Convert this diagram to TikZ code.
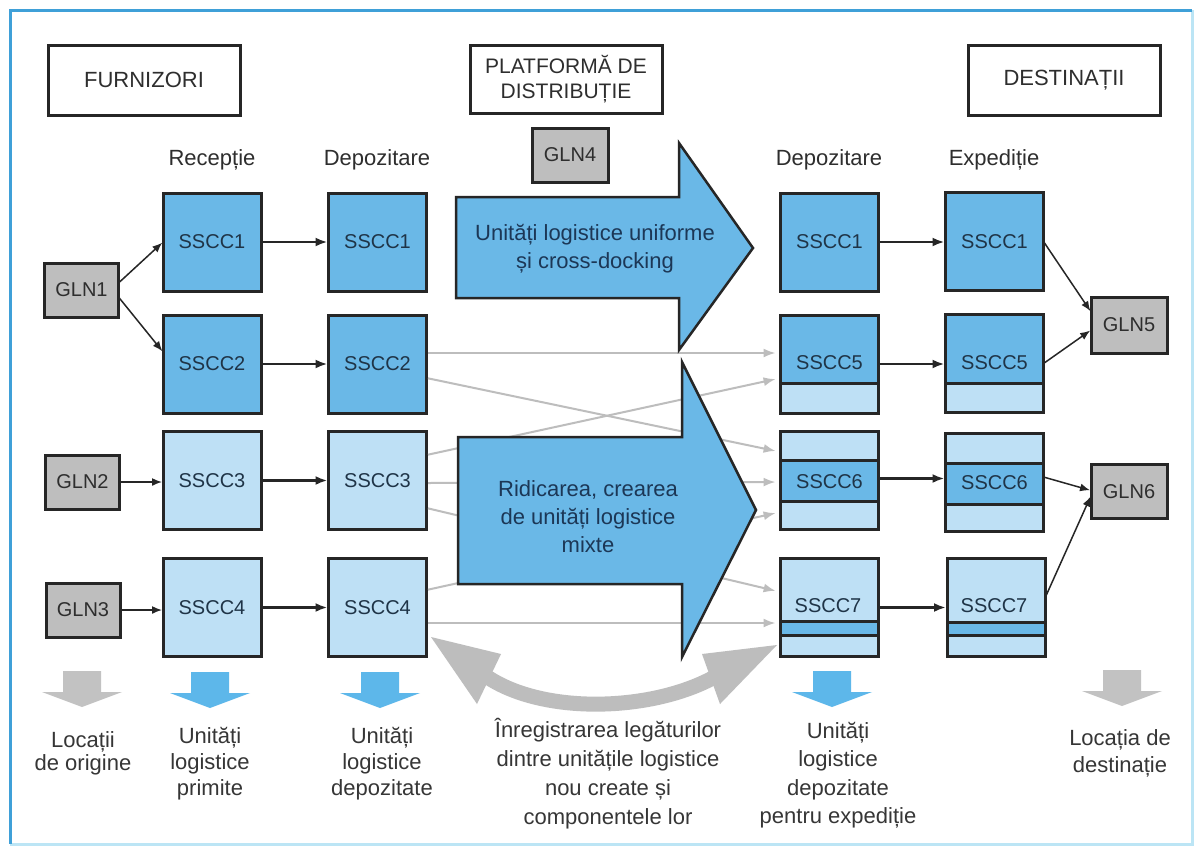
\documentclass[tikz,border=0pt]{standalone}
\usepackage{fontspec}
\setmainfont{Liberation Sans}
\usetikzlibrary{arrows.meta,calc}

\definecolor{frameblue}{HTML}{3FA0D8}
\definecolor{framelight}{HTML}{BCE5F5}
\definecolor{dkblue}{HTML}{6AB8E7}
\definecolor{ltblue}{HTML}{BEE0F5}
\definecolor{glngray}{HTML}{BEBEBE}
\definecolor{linkgray}{HTML}{BDBDBD}
\definecolor{edge}{HTML}{262626}
\definecolor{boxtext}{HTML}{1F3447}
\definecolor{navytext}{HTML}{1C3756}
\definecolor{labeltext}{HTML}{2E2E2E}
\definecolor{captext}{HTML}{363636}
\definecolor{smallblue}{HTML}{5DB7EA}
\definecolor{smallgray}{HTML}{C2C2C2}

% dark band inside a unit box, between two offsets measured from its top edge
\newcommand\darkband[3]{%
  \fill[dkblue] ($(#1.north west)+(1.5,#2)$) rectangle ($(#1.north east)+(-1.5,#3)$);
  \draw[edge,line width=3pt] ($(#1.north west)+(0,#2)$) -- ($(#1.north east)+(0,#2)$);
  \draw[edge,line width=3pt] ($(#1.north west)+(0,#3)$) -- ($(#1.north east)+(0,#3)$);}
% dark band running from the top edge down to an offset
\newcommand\topband[2]{%
  \fill[dkblue] ($(#1.north west)+(1.5,1.5)$) rectangle ($(#1.north east)+(-1.5,#2)$);
  \draw[edge,line width=3pt] ($(#1.north west)+(0,#2)$) -- ($(#1.north east)+(0,#2)$);}
% small downward marker: centre x, top y, colour
\newcommand\dropmark[3]{%
  \fill[#3] ({#1-19},#2) -- ({#1+19},#2) -- ({#1+19},{#2+21}) -- ({#1+40},{#2+21})
    -- (#1,{#2+36}) -- ({#1-40},{#2+21}) -- ({#1-19},{#2+21}) -- cycle;}

\begin{document}
\begin{tikzpicture}[x=1pt,y=-1pt,
  every node/.style={inner sep=0pt, outer sep=0pt},
  header/.style={draw=edge, line width=3pt, minimum width=192pt, minimum height=70pt,
    text=labeltext, align=center, font=\fontsize{22}{25}\selectfont},
  coltitle/.style={text=labeltext, font=\fontsize{22}{26}\selectfont},
  ssccbox/.style={draw=edge, line width=3pt, minimum width=98pt, minimum height=98pt,
    text=boxtext, font=\fontsize{20}{24}\selectfont},
  ssccdark/.style={ssccbox, fill=dkblue},
  sscclight/.style={ssccbox, fill=ltblue},
  sscctext/.style={text=boxtext, font=\fontsize{20}{24}\selectfont},
  glnbox/.style={draw=edge, line width=3pt, fill=glngray, minimum width=74pt,
    minimum height=54pt, text=labeltext, font=\fontsize{20}{24}\selectfont},
  bigarrowlabel/.style={text=navytext, align=center, font=\fontsize{22}{28}\selectfont},
  bottomlabel/.style={text=captext, align=center, font=\fontsize{22}{26}\selectfont},
  flow/.style={draw=edge, line width=2.5pt, -{Latex[length=12pt,width=9pt]}, shorten >=1pt},
  thinflow/.style={draw=edge, line width=1.5pt, -{Latex[length=10pt,width=8pt]}, shorten >=1pt},
  link/.style={draw=linkgray, line width=2pt, -{Latex[length=12pt,width=9pt]}, shorten >=5pt, shorten <=1.5pt},
  bigarrow/.style={draw=edge, line width=2.5pt, fill=dkblue, line join=miter}
]
\useasboundingbox (0,0) rectangle (1198,847);
\fill[white] (0,0) rectangle (1198,847);

% frame
\draw[framelight, line width=3pt] (10,844) -- (1192,844) -- (1192,10);
\draw[frameblue, line width=3pt] (1192,10) -- (10,10) -- (10,844);

% headers
\node[header] (furn) at (144,80) {FURNIZORI};
\node[header, minimum height=68pt, font=\fontsize{21}{25}\selectfont] (plat) at (566,79) {PLATFORMĂ DE\\DISTRIBUȚIE};
\node[header] (dest) at (1064,80) {DESTINAȚII};

% column titles
\node[coltitle] (t-rec) at (212,160) {Recepție};
\node[coltitle] (t-dep1) at (377,160) {Depozitare};
\node[coltitle] (t-dep2) at (829,160) {Depozitare};
\node[coltitle] (t-exp) at (994,160) {Expediție};

% locations
\node[glnbox] (gln1) at (81.5,290) {GLN1};
\node[glnbox] (gln2) at (82.5,482) {GLN2};
\node[glnbox] (gln3) at (83,610) {GLN3};
\node[glnbox, minimum width=76pt] (gln4) at (570,155) {GLN4};
\node[glnbox, minimum width=76pt, minimum height=56pt] (gln5) at (1129,325) {GLN5};
\node[glnbox, minimum width=76pt] (gln6) at (1129,491.5) {GLN6};

% reception and storage units
\node[ssccdark] (c1r1) at (212,242) {SSCC1};
\node[ssccdark] (c1r2) at (212,364) {SSCC2};
\node[sscclight] (c1r3) at (212,480.5) {SSCC3};
\node[sscclight] (c1r4) at (212,607.5) {SSCC4};
\node[ssccdark] (c2r1) at (377.5,242) {SSCC1};
\node[ssccdark] (c2r2) at (377.5,364) {SSCC2};
\node[sscclight] (c2r3) at (377.5,480.5) {SSCC3};
\node[sscclight] (c2r4) at (377.5,607.5) {SSCC4};

% storage and shipping units at the destination side
\node[ssccdark] (c3r1) at (829.5,242) {SSCC1};
\node[sscclight] (c3r2) at (829.5,364) {};
\node[sscclight] (c3r3) at (829.5,480.5) {};
\node[sscclight] (c3r4) at (829.5,607.5) {};
\node[ssccdark] (c4r1) at (994.5,241.5) {SSCC1};
\node[sscclight] (c4r2) at (994.5,363.5) {};
\node[sscclight] (c4r3) at (994.5,482.5) {};
\node[sscclight] (c4r4) at (996,607.5) {};

\topband{c3r2}{68}
\topband{c4r2}{69}
\darkband{c3r3}{29}{70}
\darkband{c4r3}{30}{71}
\darkband{c3r4}{63}{77}
\darkband{c4r4}{64}{77}

\node[sscctext] (s5a) at (829.5,363) {SSCC5};
\node[sscctext] (s5b) at (994.5,363) {SSCC5};
\node[sscctext] (s6a) at (829.5,482) {SSCC6};
\node[sscctext] (s6b) at (994.5,483) {SSCC6};
\node[sscctext] (s7a) at (828,606) {SSCC7};
\node[sscctext] (s7b) at (994,606) {SSCC7};

% links between storage units
\draw[link] ([yshift=11pt]c2r2.east) -- ([yshift=11pt]c3r2.west);
\draw[link] ([yshift=-14pt]c2r2.east) -- ([yshift=28.5pt]c3r3.west);
\draw[link] ([yshift=25.5pt]c2r3.east) -- ([yshift=-14pt]c3r2.west);
\draw[link] ([yshift=-2.5pt]c2r3.east) -- ([yshift=-1.5pt]c3r3.west);
\draw[link] ([yshift=-27.5pt]c2r3.east) -- ([yshift=15.5pt]c3r4.west);
\draw[link] ([yshift=17.5pt]c2r4.east) -- ([yshift=-31.5pt]c3r3.west);
\draw[link] ([yshift=-15.5pt]c2r4.east) -- ([yshift=-15.5pt]c3r4.west);

% main process arrows
\draw[bigarrow] (456,197) -- (679,197) -- (679,143) -- (753,248) -- (679,350) -- (679,298) -- (456,298) -- cycle;
\draw[bigarrow] (458,437) -- (682,437) -- (682,362) -- (756,510) -- (682,657) -- (682,584) -- (458,584) -- cycle;
\node[bigarrowlabel] (lab-uniform) at (595,249) {Unități logistice uniforme\\și cross-docking};
\node[bigarrowlabel] (lab-mixed) at (588,517) {Ridicarea, crearea\\de unități logistice\\mixte};

% two-way arrow for recording the links
\draw[linkgray, line width=15pt] (483,674) .. controls (540,716) and (655,712) .. (718,675);
\fill[linkgray] (431,637) -- (501,654) -- (477,704) -- cycle;
\fill[linkgray] (777,645) -- (702,654) -- (720,704) -- cycle;

% supplier inputs
\draw[thinflow] ([yshift=7pt]gln1.east) -- (c1r1.west);
\draw[thinflow] ([yshift=-7pt]gln1.east) -- ([yshift=12pt]c1r2.west);
\draw[thinflow] (gln2.east) -- (gln2.east -| c1r3.west);
\draw[thinflow] (gln3.east) -- (gln3.east -| c1r4.west);

% reception to storage, storage to shipping
\draw[flow] (c1r1.east) -- (c2r1.west);
\draw[flow] (c1r2.east) -- (c2r2.west);
\draw[flow] (c1r3.east) -- (c2r3.west);
\draw[flow] (c1r4.east) -- (c2r4.west);
\draw[flow] (c3r1.east) -- (c3r1.east -| c4r1.west);
\draw[flow] (c3r2.east) -- (c3r2.east -| c4r2.west);
\draw[flow] ([yshift=2pt]c3r3.east) -- ([yshift=2pt]c3r3.east -| c4r3.west);
\draw[flow] (c3r4.east) -- (c3r4.east -| c4r4.west);

% deliveries to destinations
\draw[thinflow] (c4r1.east) -- ([yshift=13pt]gln5.west);
\draw[thinflow] (c4r2.east) -- ([yshift=-5pt]gln5.west);
\draw[thinflow] ([yshift=5.5pt]c4r3.east) -- ([yshift=1pt]gln6.west);
\draw[thinflow] ([yshift=9.5pt]c4r4.east) -- ([yshift=-4pt]gln6.west);

% markers and captions
\dropmark{82}{671}{smallgray}
\dropmark{210}{672}{smallblue}
\dropmark{380}{672}{smallblue}
\dropmark{832}{671}{smallblue}
\dropmark{1122}{670}{smallgray}

\node[bottomlabel, font=\fontsize{22}{23}\selectfont] (cap-origin) at (83,753) {Locații\\de origine};
\node[bottomlabel] (cap-received) at (210,764) {Unități\\logistice\\primite};
\node[bottomlabel] (cap-stored) at (382,764) {Unități\\logistice\\depozitate};
\node[bottomlabel, font=\fontsize{22}{29}\selectfont] (cap-links) at (608,774) {Înregistrarea legăturilor\\dintre unitățile logistice\\nou create și\\componentele lor};
\node[bottomlabel, font=\fontsize{22}{28.5}\selectfont] (cap-shipping) at (838,775) {Unități\\logistice\\depozitate\\pentru expediție};
\node[bottomlabel, font=\fontsize{22}{27}\selectfont] (cap-dest) at (1120,753.5) {Locația de\\destinație};
\end{tikzpicture}
\end{document}
